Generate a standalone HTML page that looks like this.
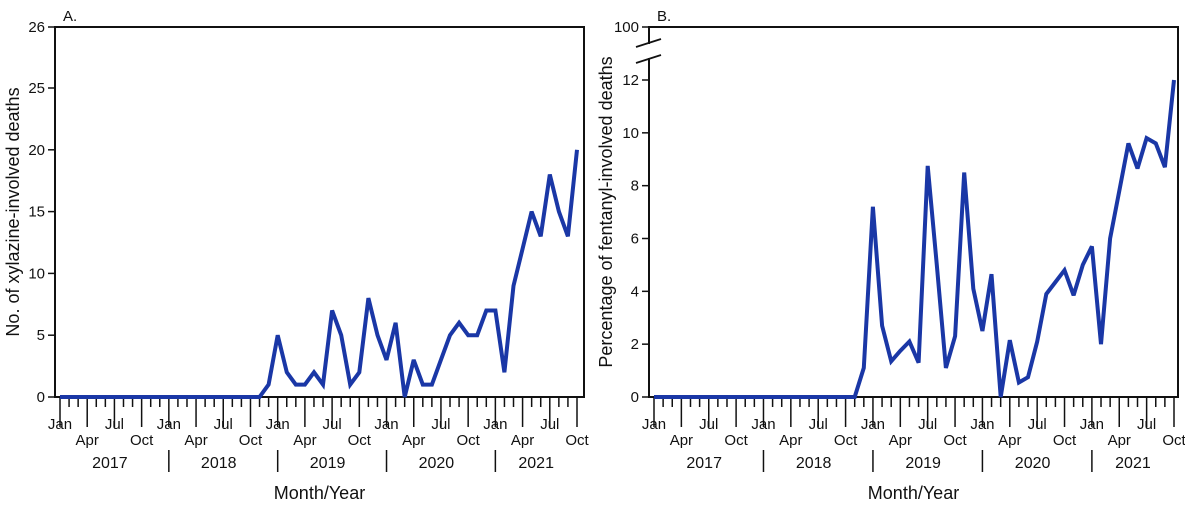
<!DOCTYPE html>
<html><head><meta charset="utf-8">
<style>
html,body{margin:0;padding:0;background:#fff;}
svg{display:block;font-family:"Liberation Sans",Arial,sans-serif;}
text{fill:#111;}
</style></head>
<body>
<svg id="chart" width="1185" height="506" viewBox="0 0 1185 506" xmlns="http://www.w3.org/2000/svg"></svg>
<script>
const months = ["Jan","Feb","Mar","Apr","May","Jun","Jul","Aug","Sep","Oct","Nov","Dec"];
const years = ["2017","2018","2019","2020","2021"];
const xylazineDeaths = [0,0,0,0,0,0,0,0,0,0,0,0, 0,0,0,0,0,0,0,0,0,0,0,1,
  5,2,1,1,2,1,7,5,1,2,8,5,
  3,6,0,3,1,1,3,5,6,5,5,7,
  7,2,9,12,15,13,18,15,13,20];
const fentanylPct = [0,0,0,0,0,0,0,0,0,0,0,0, 0,0,0,0,0,0,0,0,0,0,0,1.1,
  7.2,2.7,1.35,1.75,2.1,1.3,8.75,5.0,1.1,2.3,8.5,4.1,
  2.5,4.65,0,2.15,0.55,0.75,2.1,3.9,4.35,4.8,3.85,5.0,
  5.7,2.0,6.0,7.8,9.6,8.65,9.8,9.6,8.7,12.0];
const leftTicks = [0,5,10,15,20,25];
const rightTicks = [0,2,4,6,8,10,12];

const NS = "http://www.w3.org/2000/svg";
const svg = document.getElementById("chart");
function mk(tag, attrs, parent, txt){
  const e = document.createElementNS(NS, tag);
  for (const k in attrs) e.setAttribute(k, attrs[k]);
  if (txt !== undefined) e.textContent = txt;
  (parent || svg).appendChild(e);
  return e;
}

function drawPanel(cfg){
  const g = mk("g", {});
  
  
  const x = i => cfg.x0 + i * (cfg.x1 - cfg.x0) / (cfg.data.length - 1);
  const y = cfg.yScale;
  const fr = mk("rect", {x:cfg.left, y:27, width:cfg.right-cfg.left, height:370, fill:"none", stroke:"#111", "stroke-width":2}, g);
  
  
  const pl = mk("text", {x:cfg.left+8, y:21, "font-size":15}, g, cfg.label);
  
  
  cfg.ticks.forEach(t => {
    const yy = y(t);
    const tl = mk("line", {x1:cfg.left-7, x2:cfg.left, y1:yy, y2:yy, stroke:"#111", "stroke-width":1.5}, g);
    
    
    const tx = mk("text", {x:cfg.left-10, y:yy+5, "font-size":15, "text-anchor":"end"}, g, String(t));
    
    
  });
  if (cfg.extra) cfg.extra(g);
  for (let i = 0; i < cfg.data.length; i++){
    const m = i % 12;
    const quarter = m % 3 === 0;
    const xx = x(i);
    const t = mk("line", {x1:xx, x2:xx, y1:397, y2: quarter ? 427 : 407, stroke:"#111", "stroke-width":1.5}, g);
    
    
    if (quarter){
      const row2 = (m === 3 || m === 9);
      const lb = mk("text", {x:xx, y: row2 ? 445 : 429, "font-size":15, "text-anchor":"middle"}, g, months[m]);
      
      
    }
  }
  years.forEach((yr, k) => {
    const start = x(k*12), end = x(Math.min(k*12+11, cfg.data.length-1));
    const yl = mk("text", {x:(start+end)/2, y:468, "font-size":16, "text-anchor":"middle"}, g, yr);
    
    
    if (k > 0){
      const sp = mk("line", {x1:start, x2:start, y1:450, y2:472, stroke:"#111", "stroke-width":1.5}, g);
      
      
    }
  });
  const xt = mk("text", {x:(cfg.left+cfg.right)/2, y:499, "font-size":18, "text-anchor":"middle"}, g, "Month/Year");
  
  
  const yt = mk("text", {x:0, y:0, "font-size":18, "text-anchor":"middle", transform:"translate("+cfg.ytx+",212) rotate(-90)"}, g, cfg.ytitle);
  
  
  const pts = cfg.data.map((v,i) => x(i).toFixed(1)+","+y(v).toFixed(1)).join(" ");
  const ln = mk("polyline", {points:pts, fill:"none", stroke:"#1a37a6", "stroke-width":4, "stroke-linejoin":"miter", "stroke-miterlimit":3}, g);
  
  
}

drawPanel({
  name:"panel-a-xylazine", label:"A.", left:55, right:584, x0:60, x1:577,
  data:xylazineDeaths, ticks:leftTicks,
  yScale:v => 397 - v*(309/25), ytx:19, ytitle:"No. of xylazine-involved deaths",
  extra: g => {
    const t = mk("line", {x1:48, x2:55, y1:27, y2:27, stroke:"#111", "stroke-width":1.5}, g);
    
    
    const l = mk("text", {x:45, y:32, "font-size":15, "text-anchor":"end"}, g, "26");
    
    
  }
});
drawPanel({
  name:"panel-b-fentanyl", label:"B.", left:649, right:1178, x0:654, x1:1174,
  data:fentanylPct, ticks:rightTicks,
  yScale:v => 397 - v*(317/12), ytx:612, ytitle:"Percentage of fentanyl-involved deaths",
  extra: g => {
    const t = mk("line", {x1:642, x2:649, y1:27, y2:27, stroke:"#111", "stroke-width":1.5}, g);
    
    
    const l = mk("text", {x:639, y:32, "font-size":15, "text-anchor":"end"}, g, "100");
    
    
    const gap = mk("rect", {x:645, y:44, width:8, height:14, fill:"#fff"}, g);
    
    
    [[636,47,661,39],[636,63,661,55]].forEach(c => {
      const s = mk("line", {x1:c[0], y1:c[1], x2:c[2], y2:c[3], stroke:"#111", "stroke-width":1.8}, g);
      
      
    });
  }
});
</script>
</body></html>
